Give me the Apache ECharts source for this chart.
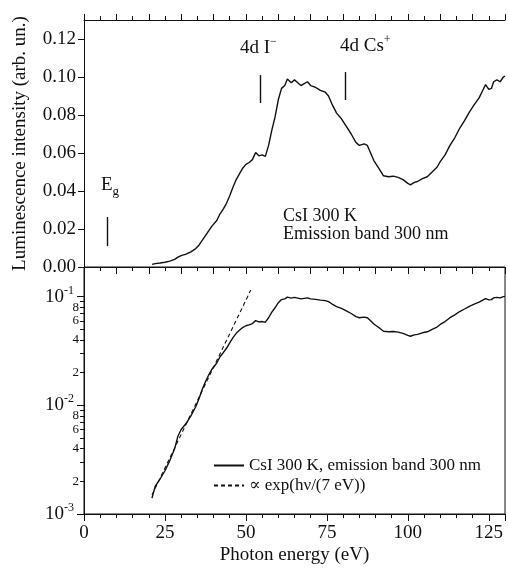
<!DOCTYPE html>
<html>
<head>
<meta charset="utf-8">
<script src="https://cdn.jsdelivr.net/npm/echarts@6/dist/echarts.min.js"></script>
<style>
  html, body { margin: 0; background: #fff; }
  #chart { width: 508px; height: 568px; }
</style>
</head>
<body>
<div id="chart"></div>
<script>
// CsI 300 K, emission band 300 nm — luminescence excitation spectrum
const energy = [
  21.0, 22.0, 23.5, 25.0, 26.5, 28.0, 29.0, 30.0, 31.5, 33.0,
  34.5, 35.5, 36.5, 37.5, 38.5, 39.5, 41.0, 42.0, 43.0, 44.0,
  45.0, 46.0, 47.0, 48.0, 49.0, 50.0, 51.0, 52.0, 53.0, 54.0,
  55.0, 56.0, 57.0, 58.0, 59.0, 60.0, 61.0, 62.0, 62.8, 64.0,
  65.0, 66.0, 67.0, 68.0, 69.0, 70.0, 71.5, 73.0, 74.5, 75.5,
  76.5, 78.0, 79.5, 81.0, 82.5, 84.0, 85.0, 86.5, 87.5, 88.5,
  89.5, 91.0, 92.5, 94.0, 95.5, 97.0, 98.5, 100.0, 100.8, 102.0,
  103.0, 104.5, 106.0, 107.5, 109.0, 110.0, 111.5, 113.0, 114.5, 116.0,
  117.5, 119.0, 120.5, 122.0, 123.0, 124.0, 125.0, 125.8, 126.5, 127.5,
  128.5, 129.5, 130.0
]
const intensity = [
  0.0014, 0.0018, 0.0021, 0.0025, 0.0031, 0.0040, 0.0052, 0.0060, 0.0068, 0.0080,
  0.0097, 0.0115, 0.0140, 0.0165, 0.0190, 0.0215, 0.0245, 0.0280, 0.0305, 0.0335,
  0.0375, 0.0420, 0.0460, 0.0490, 0.0520, 0.0540, 0.0550, 0.0565, 0.0602, 0.0585,
  0.0590, 0.0582, 0.0640, 0.0720, 0.0790, 0.0880, 0.0940, 0.0955, 0.0990, 0.0970,
  0.0985, 0.0970, 0.0955, 0.0965, 0.0975, 0.0955, 0.0945, 0.0930, 0.0920, 0.0900,
  0.0860, 0.0810, 0.0780, 0.0740, 0.0700, 0.0655, 0.0640, 0.0648, 0.0640, 0.0600,
  0.0560, 0.0520, 0.0480, 0.0475, 0.0478, 0.0472, 0.0460, 0.0440, 0.0432, 0.0445,
  0.0450, 0.0465, 0.0475, 0.0500, 0.0525, 0.0555, 0.0590, 0.0640, 0.0680, 0.0730,
  0.0770, 0.0815, 0.0855, 0.0890, 0.0925, 0.0960, 0.0935, 0.0940, 0.0975, 0.0985,
  0.0975, 0.1000, 0.1005
]
// exp(hv / 7 eV) guide line, end points
const fitEnergy = [21.0, 51.5]
const fitIntensity = [0.0015, 0.115]

// vertical marker bars: Eg, 4d I-, 4d Cs+
const markerEnergy = [7.2, 54.4, 80.8]
const markerLow = [0.011, 0.0863, 0.0879]
const markerHigh = [0.0263, 0.101, 0.1026]

const linTicks = [0, 0.02, 0.04, 0.06, 0.08, 0.10, 0.12]
const logMajor = [0.001, 0.01, 0.1]
const logMinor = [0.002, 0.003, 0.004, 0.005, 0.006, 0.007, 0.008, 0.009,
  0.02, 0.03, 0.04, 0.05, 0.06, 0.07, 0.08, 0.09]
const logMinorLabels = [0.002, 0.004, 0.006, 0.008, 0.02, 0.04, 0.06, 0.08]

const SERIF = '"Liberation Serif", "DejaVu Serif", serif'
const INK = '#111'

const pairs = energy.map((e, i) => [e, intensity[i]])
const fitPairs = fitEnergy.map((e, i) => [e, fitIntensity[i]])

const chart = echarts.init(document.getElementById('chart'))

const xCommon = {
  type: 'value', min: 0, max: 130,
  axisLine: { show: true, lineStyle: { color: INK, width: 1 } },
  splitLine: { show: false },
  minorSplitLine: { show: false },
}

chart.setOption({
  animation: false,
  backgroundColor: '#fff',
  textStyle: { fontFamily: SERIF, color: INK },
  grid: [
    { left: 84, right: 3, top: 20, height: 247 },
    { left: 84, right: 3, top: 267, height: 247, show: true, borderColor: INK, borderWidth: 1 },
  ],
  legend: {
    orient: 'vertical',
    left: 208, top: 452,
    itemWidth: 30, itemHeight: 14, itemGap: 3,
    itemStyle: { opacity: 0 },
    textStyle: { fontFamily: SERIF, fontSize: 17, color: INK },
    data: ['CsI 300 K, emission band 300 nm', '\u221d exp(h\u03bd/(7 eV))'],
  },
  xAxis: [
    {
      ...xCommon, gridIndex: 0, position: 'bottom', interval: 10,
      axisTick: { show: true, length: 7, lineStyle: { color: INK } },
      minorTick: { show: true, splitNumber: 2, length: 4, lineStyle: { color: INK } },
      axisLabel: { show: false },
    },
    {
      ...xCommon, gridIndex: 0, position: 'top', interval: 10,
      axisTick: { show: true, length: 6, lineStyle: { color: INK } },
      minorTick: { show: true, splitNumber: 2, length: 4, lineStyle: { color: INK } },
      axisLabel: { show: false },
    },
    {
      ...xCommon, gridIndex: 1, position: 'bottom', interval: 25,
      axisTick: { show: true, length: 7, lineStyle: { color: INK } },
      minorTick: { show: true, splitNumber: 5, length: 4, lineStyle: { color: INK } },
      axisLabel: { color: INK, fontFamily: SERIF, fontSize: 19, margin: 10 },
      name: 'Photon energy (eV)',
      nameLocation: 'middle', nameGap: 32,
      nameTextStyle: { color: INK, fontFamily: SERIF, fontSize: 19 },
    },
  ],
  yAxis: [
    {
      type: 'value', gridIndex: 0, min: 0, max: 0.13,
      axisLine: { show: true, lineStyle: { color: INK } },
      splitLine: { show: false },
      axisTick: { show: true, length: 6, customValues: linTicks, lineStyle: { color: INK } },
      axisLabel: {
        customValues: linTicks, margin: 8,
        color: INK, fontFamily: SERIF, fontSize: 19,
        formatter: (v) => v.toFixed(2),
      },
      name: 'Luminescence intensity (arb. un.)',
      nameLocation: 'middle', nameGap: 54,
      nameTextStyle: { color: INK, fontFamily: SERIF, fontSize: 19 },
    },
    {
      type: 'log', logBase: 10, gridIndex: 1, position: 'left', min: 0.001, max: 0.1875,
      axisLine: { show: true, lineStyle: { color: INK } },
      splitLine: { show: false },
      axisTick: { show: true, length: 7, customValues: logMajor, lineStyle: { color: INK } },
      axisLabel: {
        customValues: logMajor, margin: 10,
        color: INK, fontFamily: SERIF,
        formatter: (v) => '{b|10}{s|' + Math.round(Math.log10(v)) + '}',
        rich: {
          b: { fontSize: 19, fontFamily: SERIF, color: INK, lineHeight: 24 },
          s: { fontSize: 12, fontFamily: SERIF, color: INK, verticalAlign: 'top', lineHeight: 24 },
        },
      },
    },
    {
      type: 'log', logBase: 10, gridIndex: 1, position: 'left', offset: 0, min: 0.001, max: 0.1875,
      axisLine: { show: false, onZero: false },
      splitLine: { show: false },
      axisTick: { show: true, length: 4, customValues: logMinor, lineStyle: { color: INK } },
      axisLabel: {
        customValues: logMinorLabels, margin: 5,
        color: INK, fontFamily: SERIF, fontSize: 13,
        formatter: (v) => String(Math.round(v / Math.pow(10, Math.floor(Math.log10(v) + 1e-9)))),
      },
    },
  ],
  series: [
    {
      name: 'CsI 300 K (linear)',
      type: 'line', xAxisIndex: 0, yAxisIndex: 0,
      data: pairs, showSymbol: false, symbol: 'none',
      lineStyle: { color: INK, width: 1.4 },
      markLine: {
        silent: true, symbol: 'none', label: { show: false },
        lineStyle: { color: INK, width: 1.4, type: 'solid' },
        data: markerEnergy.map((e, i) => [
          { coord: [e, markerLow[i]] },
          { coord: [e, markerHigh[i]] },
        ]),
      },
    },
    {
      name: 'CsI 300 K, emission band 300 nm',
      type: 'line', xAxisIndex: 2, yAxisIndex: 1,
      data: pairs, showSymbol: false, symbol: 'none',
      itemStyle: { color: INK },
      lineStyle: { color: INK, width: 1.4 },
    },
    {
      name: '\u221d exp(h\u03bd/(7 eV))',
      type: 'line', xAxisIndex: 2, yAxisIndex: 1,
      data: fitPairs, showSymbol: false, symbol: 'none',
      itemStyle: { color: INK },
      lineStyle: { color: INK, width: 1.1, type: [4, 3] },
    },
  ],
  graphic: [
    {
      type: 'text', left: 240, top: 36,
      style: {
        text: '{n|4d I}{s|\u2212}', fill: INK,
        rich: {
          n: { fontSize: 19, fontFamily: SERIF, fill: INK, lineHeight: 24 },
          s: { fontSize: 12, fontFamily: SERIF, fill: INK, verticalAlign: 'top', lineHeight: 24 },
        },
      },
    },
    {
      type: 'text', left: 340, top: 34,
      style: {
        text: '{n|4d Cs}{s|+}', fill: INK,
        rich: {
          n: { fontSize: 19, fontFamily: SERIF, fill: INK, lineHeight: 24 },
          s: { fontSize: 12, fontFamily: SERIF, fill: INK, verticalAlign: 'top', lineHeight: 24 },
        },
      },
    },
    {
      type: 'text', left: 101, top: 176,
      style: {
        text: '{n|E}{g|g}', fill: INK,
        rich: {
          n: { fontSize: 19, fontFamily: SERIF, fill: INK, lineHeight: 26 },
          g: { fontSize: 13, fontFamily: SERIF, fill: INK, verticalAlign: 'bottom', lineHeight: 26 },
        },
      },
    },
    {
      type: 'text', left: 283, top: 207,
      style: { text: 'CsI 300 K', fontSize: 18, fontFamily: SERIF, fill: INK },
    },
    {
      type: 'text', left: 283, top: 225,
      style: { text: 'Emission band 300 nm', fontSize: 18, fontFamily: SERIF, fill: INK },
    },
  ],
})
</script>
</body>
</html>
